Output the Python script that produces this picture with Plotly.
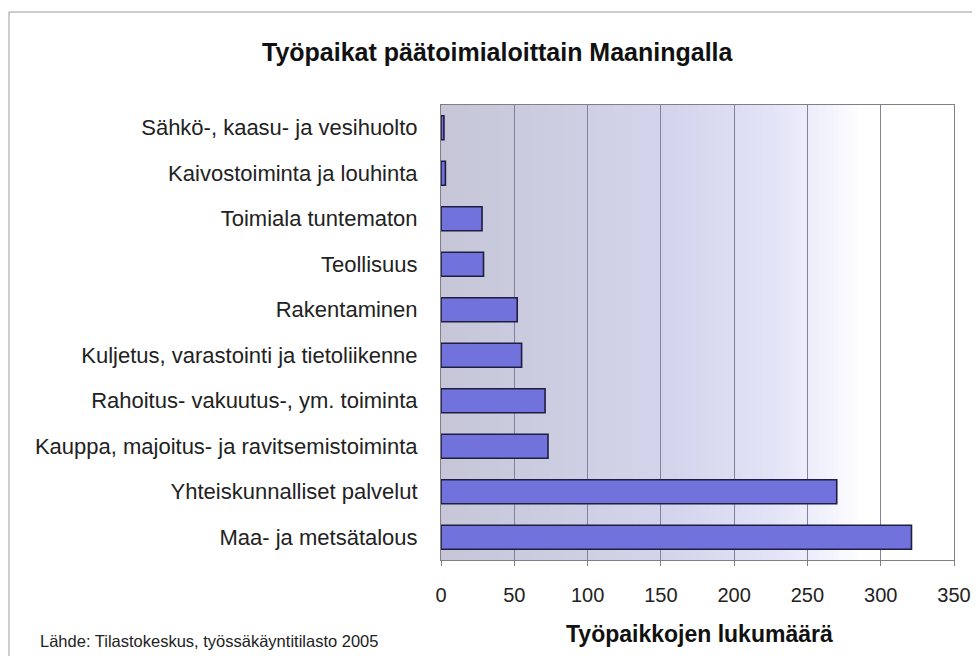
import plotly.graph_objects as go

categories = [
    "Maa- ja metsätalous",
    "Yhteiskunnalliset palvelut",
    "Kauppa, majoitus- ja ravitsemistoiminta",
    "Rahoitus- vakuutus-, ym. toiminta",
    "Kuljetus, varastointi ja tietoliikenne",
    "Rakentaminen",
    "Teollisuus",
    "Toimiala tuntematon",
    "Kaivostoiminta ja louhinta",
    "Sähkö-, kaasu- ja vesihuolto",
]
values = [321, 270, 73, 71, 55, 52, 29, 28, 3, 2]
x_ticks = [0, 50, 100, 150, 200, 250, 300, 350]

title_text = "Työpaikat päätoimialoittain Maaningalla"
x_title = "Työpaikkojen lukumäärä"
source_text = "Lähde: Tilastokeskus, työssäkäyntitilasto 2005"

FONT = "Liberation Sans, Arial, sans-serif"

# the page body has an 8px margin; figure sized to fit inside it
OFF = 8
W, H = 964, 648
L, R, T, B = 441 - OFF, W - (954 - OFF), 105 - OFF, H - (560 - OFF)
PW, PH = W - L - R, H - T - B

def px(xpage):
    return (xpage - OFF - L) / PW

def py(ypage):
    return (H - B - (ypage - OFF)) / PH

fig = go.Figure(go.Bar(
    x=values, y=categories, orientation="h",
    marker=dict(color="#7272dc", line=dict(color="#1e1e40", width=1.6)),
    width=0.53,
))

# gradient background for plot area (vertical strips, below gridlines)
stops = [(0.0, (198, 198, 216)), (0.45, (212, 212, 236)), (0.62, (224, 224, 246)),
         (0.74, (240, 240, 252)), (0.82, (255, 255, 255)), (1.0, (255, 255, 255))]

def col_at(t):
    for (t0, c0), (t1, c1) in zip(stops[:-1], stops[1:]):
        if t0 <= t <= t1:
            f = (t - t0) / (t1 - t0) if t1 > t0 else 0
            return "rgb(%d,%d,%d)" % tuple(round(a + (b - a) * f) for a, b in zip(c0, c1))
    return "rgb(255,255,255)"

N = 80
shapes = []
for i in range(N):
    t0, t1 = i / N, (i + 1) / N
    shapes.append(dict(type="rect", xref="x domain", yref="y domain",
                       x0=t0, x1=t1 + 0.002, y0=0, y1=1, layer="below",
                       line=dict(width=0), fillcolor=col_at((t0 + t1) / 2)))
# outer frame
shapes.append(dict(type="rect", xref="paper", yref="paper",
                   x0=px(9), x1=px(1000), y0=py(700), y1=py(12),
                   line=dict(color="#9a9a9a", width=1), fillcolor="rgba(0,0,0,0)", layer="below"))

fig.update_layout(
    width=W, height=H,
    margin=dict(l=L, r=R, t=T, b=B, autoexpand=False),
    paper_bgcolor="white", plot_bgcolor="rgba(0,0,0,0)",
    font=dict(family=FONT, size=22, color="#222222"),
    showlegend=False,
    shapes=shapes,
    annotations=[
        dict(text="<b>" + title_text + "</b>", xref="paper", yref="paper",
             x=px(498), y=py(52), xanchor="center", yanchor="middle",
             showarrow=False, font=dict(size=25, color="#111111")),
        dict(text="<b>" + x_title + "</b>", xref="paper", yref="paper",
             x=px(699), y=py(634), xanchor="center", yanchor="middle",
             showarrow=False, font=dict(size=23, color="#111111")),
        dict(text=source_text, xref="paper", yref="paper",
             x=px(38), y=py(641), xanchor="left", yanchor="middle",
             showarrow=False, font=dict(size=16.5, color="#222222")),
    ],
)
fig.update_xaxes(
    range=[0, 350], tickvals=x_ticks, ticktext=[str(v) for v in x_ticks],
    showgrid=True, gridcolor="#82829a", gridwidth=1,
    showline=True, linecolor="#808080", linewidth=1, mirror=True,
    ticks="outside", ticklen=5, tickcolor="#808080",
    ticklabelstandoff=12, zeroline=False, fixedrange=True,
    tickfont=dict(size=20, color="#222222"),
)
fig.update_yaxes(
    categoryorder="array", categoryarray=categories,
    showline=True, linecolor="#808080", linewidth=1, mirror=True,
    ticks="", ticklabelstandoff=18, showgrid=False, fixedrange=True,
    tickfont=dict(size=22, color="#222222"),
)
fig.write_html("out.html")
